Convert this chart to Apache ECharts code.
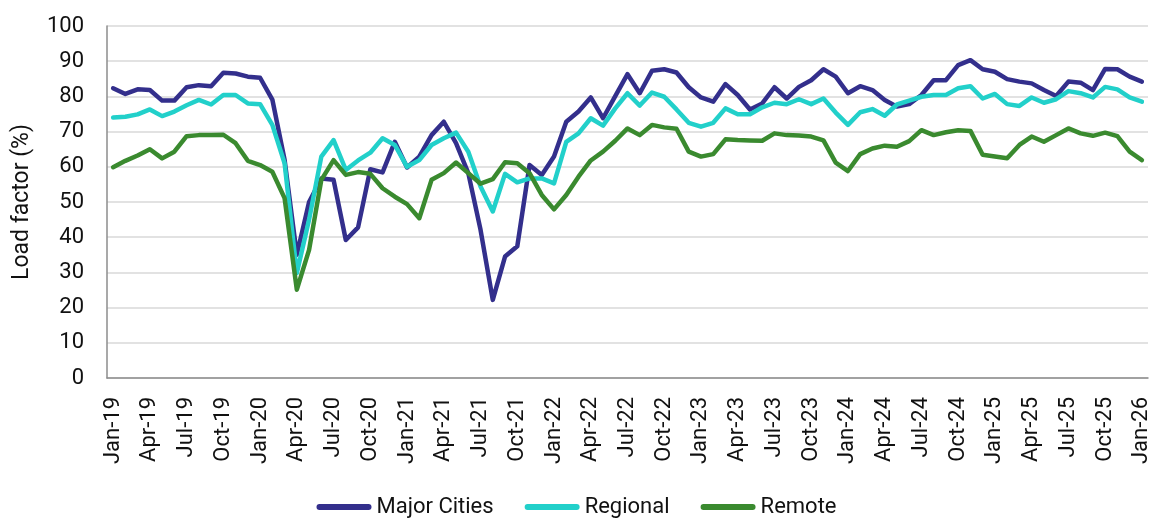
<!DOCTYPE html>
<html>
<head>
<meta charset="utf-8">
<script src="https://cdn.jsdelivr.net/npm/echarts@6/dist/echarts.min.js"></script>
<style>html,body{margin:0;padding:0;background:#fff}#c{width:1153px;height:518px}</style>
</head>
<body>
<div id="c"></div>
<script>
var categories = [
"Jan-19","Feb-19","Mar-19","Apr-19","May-19","Jun-19","Jul-19","Aug-19","Sep-19","Oct-19","Nov-19","Dec-19",
"Jan-20","Feb-20","Mar-20","Apr-20","May-20","Jun-20","Jul-20","Aug-20","Sep-20","Oct-20","Nov-20","Dec-20",
"Jan-21","Feb-21","Mar-21","Apr-21","May-21","Jun-21","Jul-21","Aug-21","Sep-21","Oct-21","Nov-21","Dec-21",
"Jan-22","Feb-22","Mar-22","Apr-22","May-22","Jun-22","Jul-22","Aug-22","Sep-22","Oct-22","Nov-22","Dec-22",
"Jan-23","Feb-23","Mar-23","Apr-23","May-23","Jun-23","Jul-23","Aug-23","Sep-23","Oct-23","Nov-23","Dec-23",
"Jan-24","Feb-24","Mar-24","Apr-24","May-24","Jun-24","Jul-24","Aug-24","Sep-24","Oct-24","Nov-24","Dec-24",
"Jan-25","Feb-25","Mar-25","Apr-25","May-25","Jun-25","Jul-25","Aug-25","Sep-25","Oct-25","Nov-25","Dec-25",
"Jan-26"];

var majorCities = [
82.3,80.7,82,81.8,78.8,78.8,82.6,83.2,82.9,86.7,86.5,85.6,
85.3,79.1,62,35,50,56.7,56.3,39.2,42.8,59.3,58.4,67.1,
59.8,62.9,69,72.8,66.7,58.2,42.1,22.2,34.5,37.4,60.5,57.7,
62.9,72.8,75.7,79.7,73.8,80.1,86.3,80.9,87.3,87.7,86.8,82.6,
79.7,78.5,83.5,80.4,76.3,78,82.6,79.4,82.7,84.6,87.7,85.6,
80.9,82.9,81.8,79,77.1,77.8,80.4,84.6,84.6,88.9,90.3,87.7,
87,84.9,84.2,83.7,81.8,80.1,84.2,83.9,81.8,87.8,87.7,85.6,
84.2];

var regional = [
74,74.2,74.9,76.3,74.4,75.7,77.5,79,77.7,80.4,80.4,78,
77.8,71.9,61,29.8,45,62.9,67.6,59.1,61.8,64,68.1,66.2,
60,61.9,66.2,68.1,69.7,64.3,54.4,47.3,58,55.6,56.7,56.7,
55.3,67.1,69.5,73.8,71.7,76.6,80.9,77.4,81.1,79.9,76.3,72.5,
71.4,72.5,76.6,74.9,74.9,76.9,78.2,77.8,79.2,77.8,79.4,75.4,
71.9,75.5,76.4,74.5,77.7,78.8,79.9,80.4,80.4,82.3,82.9,79.4,
80.7,77.8,77.3,79.7,78.2,79.2,81.5,80.9,79.7,82.7,82,79.7,
78.5];

var remote = [
59.9,61.7,63.2,65,62.4,64.3,68.7,69,69,69.1,66.7,61.7,
60.5,58.6,51.1,25.1,36.4,56.3,61.9,57.7,58.5,58,53.9,51.5,
49.4,45.4,56.3,58.2,61.2,58.2,55.2,56.5,61.3,61,58.2,52,
47.9,52,57.2,61.8,64.3,67.4,70.9,69,71.9,71.2,70.8,64.3,
62.9,63.6,67.8,67.6,67.5,67.4,69.5,69,68.9,68.6,67.5,61.2,
58.8,63.6,65.2,66,65.7,67.3,70.4,69,69.8,70.4,70.2,63.4,
62.9,62.4,66.2,68.6,67.1,69,70.9,69.5,68.8,69.7,68.7,64.3,
61.9];

var yTicks = [0,10,20,30,40,50,60,70,80,90,100];

var chart = echarts.init(document.getElementById('c'), null, {renderer:'canvas'});
var font = 'Roboto, "Noto Sans", sans-serif';
function mk(name, data, color){
  return {
    name: name, type: 'line', data: data, symbol: 'none', smooth: false,
    lineStyle: {width: 4.5, color: color, cap: 'round', join: 'round'},
    itemStyle: {color: color},
    emphasis: {disabled: true}
  };
}
var pill = 'path://M3,0 L52,0 A3,3 0 0 1 52,6 L3,6 A3,3 0 0 1 3,0 Z';
chart.setOption({
  animation: false,
  textStyle: {fontFamily: font},
  grid: {left: 107, right: 5, top: 26, bottom: 140, containLabel: false},
  legend: {
    top: 491, left: 'center',
    icon: pill,
    itemWidth: 55, itemHeight: 6, itemGap: 31,
    textStyle: {fontSize: 22, color: '#111', fontFamily: font},
    data: ['Major Cities','Regional','Remote']
  },
  xAxis: {
    type: 'category', data: categories, boundaryGap: true,
    axisLine: {show: true, lineStyle: {color: '#8c8c8c', width: 1.5}},
    axisTick: {show: false},
    axisLabel: {interval: 2, rotate: 90, fontSize: 22, color: '#111', margin: 19, fontFamily: font},
    splitLine: {show: false}
  },
  yAxis: {
    type: 'value', min: 0, max: 100, interval: 10,
    name: 'Load factor (%)', nameLocation: 'middle', nameGap: 73,
    nameTextStyle: {fontSize: 23, color: '#111', fontFamily: font},
    axisLine: {show: true, lineStyle: {color: '#8c8c8c', width: 1.5}},
    axisTick: {show: false},
    axisLabel: {fontSize: 22, color: '#111', margin: 23, fontFamily: font,
      formatter: function(v){ return yTicks.indexOf(v) >= 0 ? String(v) : ''; }},
    splitLine: {show: true, lineStyle: {color: '#d9d9d9', width: 1.5}}
  },
  series: [
    mk('Major Cities', majorCities, '#332f8c'),
    mk('Regional', regional, '#22d0ca'),
    mk('Remote', remote, '#3a8a2f')
  ]
});
</script>
</body>
</html>
